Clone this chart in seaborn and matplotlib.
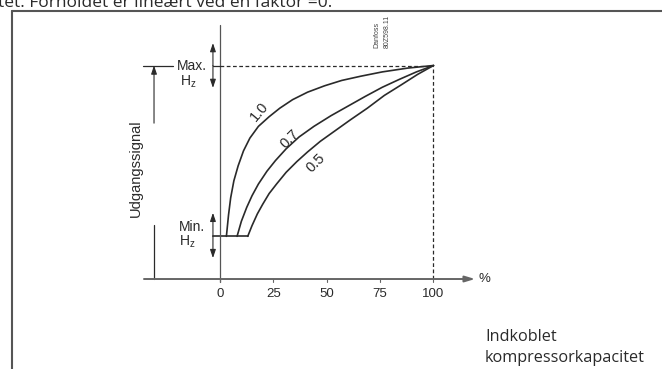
import matplotlib
matplotlib.use("Agg")
import matplotlib.pyplot as plt
from matplotlib.lines import Line2D
import numpy as np
import pandas as pd
import seaborn as sns

sns.set_style("white")
plt.rcParams['font.family'] = ['Liberation Sans', 'DejaVu Sans']
plt.rcParams['mathtext.fontset'] = 'custom'
plt.rcParams['mathtext.rm'] = 'Liberation Sans'

# kapacitet (%) og udgangssignal (min = 20, max = 100) for faktor 1.0 / 0.7 / 0.5
x_10 = [3, 4, 5, 6.5, 8.5, 11, 14, 18, 23, 28, 34, 41, 49, 57, 66, 76, 88, 100]
y_10 = [20, 30, 38, 46, 53, 60, 66, 71.5, 76, 80, 84, 87.5, 90.5, 93, 95, 97, 98.8, 100]
x_07 = [8, 10, 12.5, 15, 18, 22, 26, 31, 37, 44, 52, 60, 68, 76, 84, 92, 100]
y_07 = [20, 27, 33.5, 39, 44.5, 50.5, 55.5, 61, 66.5, 71.5, 76.5, 81, 85.5, 89.8, 93.5, 97, 100]
x_05 = [13, 15, 17.5, 20, 23, 26.5, 31, 36, 41, 47, 54, 61, 69, 77, 85, 92.5, 100]
y_05 = [20, 25, 30.5, 35, 40, 44.5, 50, 55, 59.5, 64.5, 69.5, 74.5, 80, 86, 91, 95.8, 100]
faktorer = ['1.0', '0.7', '0.5']
min_level = 20
max_level = 100
x_ticks = [0, 25, 50, 75, 100]

df = pd.concat([
    pd.DataFrame({'kapacitet': xs, 'signal': ys, 'faktor': f})
    for f, xs, ys in zip(faktorer, [x_10, x_07, x_05], [y_10, y_07, y_05])
])

ink = '#2a2a2a'
fig = plt.figure(figsize=(6.62, 3.69), dpi=100)
ax = fig.add_axes([0, 0, 1, 1])
ax.set_xlim(-103.04, 207.03)
ax.set_ylim(-42.15, 130.68)
ax.axis('off')

# kurver
sns.lineplot(data=df, x='kapacitet', y='signal', hue='faktor', palette=[ink] * 3,
             sort=False, estimator=None, legend=False, lw=1.2, ax=ax)
ax.plot([-3.3, x_05[0]], [min_level, min_level], color=ink, lw=1.2)

# akser
ax.plot([0, 0], [-1.4, 119], color='#555', lw=0.9)
ax.annotate('', xy=(119.5, 0), xytext=(-35.6, 0),
            arrowprops=dict(arrowstyle='-|>,head_length=0.6,head_width=0.18',
                            color='#666', lw=1.4, shrinkA=0, shrinkB=0))
for t in x_ticks:
    ax.plot([t, t], [-1.3, 0], color='#666', lw=0.8)
    ax.text(t, -7, str(t), ha='center', va='center', fontsize=9.5, color=ink)
ax.text(121, 0, '%', ha='left', va='center', fontsize=9.5, color=ink)

# max / min hjælpelinjer
ax.plot([0, 100], [max_level, max_level], color=ink, lw=0.9, ls=(0, (3, 2)))
ax.plot([100, 100], [0, max_level], color=ink, lw=0.9, ls=(0, (3, 2)))
ax.plot([-3.3, 0], [max_level, max_level], color=ink, lw=0.9)
ax.plot([-36.1, -22], [max_level, max_level], color=ink, lw=0.9)

arrow = dict(arrowstyle='-|>,head_length=0.5,head_width=0.17', color=ink, lw=0.8,
             shrinkA=0, shrinkB=0)
for lvl, up, down in [(max_level, 110.5, 89.5), (min_level, 31, 9.8)]:
    ax.annotate('', xy=(-3.3, up), xytext=(-3.3, lvl), arrowprops=arrow)
    ax.annotate('', xy=(-3.3, down), xytext=(-3.3, lvl), arrowprops=arrow)

ax.text(-20.1, max_level, 'Max.', ha='left', va='center', fontsize=10, color=ink)
ax.text(-18.7, 92.3, r'H$_\mathrm{z}$', ha='left', va='center', fontsize=10, color=ink)
ax.text(-19.2, 24.4, 'Min.', ha='left', va='center', fontsize=10, color=ink)
ax.text(-19.2, 17.3, r'H$_\mathrm{z}$', ha='left', va='center', fontsize=10, color=ink)

# udgangssignal-pil
ax.annotate('', xy=(-30.9, max_level), xytext=(-30.9, 73), arrowprops=arrow)
ax.plot([-30.9, -30.9], [0, 25.3], color=ink, lw=0.9)
ax.text(-39.3, 52, 'Udgangssignal', rotation=90, ha='center', va='center',
        fontsize=10.5, color=ink)

# kurve-etiketter
for f, (lx, ly), rot in zip(faktorer, [(18.5, 78.5), (32.5, 65.5), (45, 54.5)], [50, 45, 45]):
    ax.text(lx, ly, f, rotation=rot, ha='center', va='center', fontsize=10.5, color=ink)

ax.text(73.5, 108.2, 'Danfoss', rotation=90, ha='center', va='bottom', fontsize=5, color='#444')
ax.text(78.4, 108.2, '80Z598.11', rotation=90, ha='center', va='bottom', fontsize=5, color='#444')

ax.text(124.1, -27.2, 'Indkoblet', ha='left', va='center', fontsize=11.7, color=ink,
        family='Open Sans')
ax.text(124.1, -37, 'kompressorkapacitet', ha='left', va='center', fontsize=11.7, color=ink,
        family='Open Sans')

# ramme og afskåret tekst
fig.add_artist(Line2D([0.018, 1.0], [0.9702, 0.9702], color='#555', lw=1.5))
fig.add_artist(Line2D([0.018, 0.018], [0.0, 0.9702], color='#555', lw=1.5))
fig.text(-0.003, 1 - 7 / 369, 'tet. Forholdet er lineært ved en faktor =0.', ha='left',
         va='baseline', fontsize=12.5, color=ink, family='Open Sans')

fig.savefig('out.png', dpi=100)
